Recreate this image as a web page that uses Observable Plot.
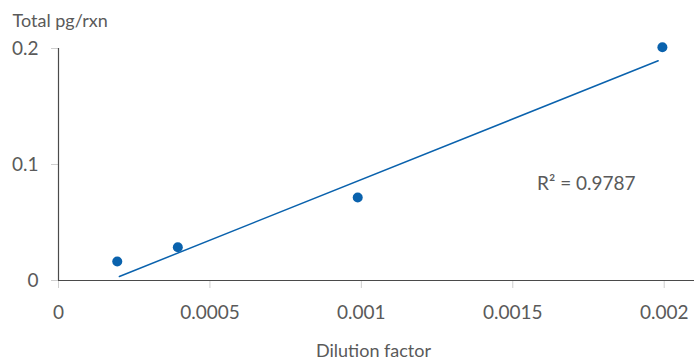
<!DOCTYPE html>
<html>
<head>
<meta charset="utf-8">
<script src="https://cdn.jsdelivr.net/npm/d3@7"></script>
<script src="https://cdn.jsdelivr.net/npm/@observablehq/plot@0.6"></script>
<style>
  html, body { margin: 0; padding: 0; background: #fff; }
</style>
</head>
<body>
<div id="chart"></div>
<script>
// Data
const dilution = [0.000194, 0.000394, 0.000988, 0.001994];
const totalPg  = [0.0164, 0.0287, 0.0716, 0.2011];
// Trend line end points (as drawn in the reference)
const trendX = [0.000201, 0.00198];
const trendY = [0.0035, 0.1894];
const xTicks = [0, 0.0005, 0.001, 0.0015, 0.002];
const yTicks = [0, 0.1, 0.2];
const xTickLabels = ["0", "0.0005", "0.001", "0.0015", "0.002"];
const yTickLabels = ["0", "0.1", "0.2"];
const rSquared = "R² = 0.9787";
const rPos = {x: 0.00158, y: 0.0776};
const xLabel = "Dilution factor";
const yLabel = "Total pg/rxn";

const points = dilution.map((x, i) => ({x, y: totalPg[i]}));
const trend = trendX.map((x, i) => ({x, y: trendY[i]}));

const blue = "#0a62ad";
const textColor = "#5a5a5a";
const font = "Lato, 'Open Sans', sans-serif";

const chart = Plot.plot({
  width: 694,
  height: 360,
  marginLeft: 58,
  marginRight: 0,
  marginTop: 48,
  marginBottom: 80,
  style: {fontFamily: font, fontSize: "19px", color: textColor, background: "#fff"},
  x: {domain: [0, 0.0021]},
  y: {domain: [0, 0.2]},
  marks: [
    Plot.axisX({ticks: xTicks, tickFormat: (d, i) => xTickLabels[xTicks.indexOf(d)], tickSize: 8, tickPadding: 17, stroke: "#cfcfcf", fill: textColor, fontSize: 19, label: null}),
    Plot.axisY({ticks: yTicks, tickFormat: (d) => yTickLabels[yTicks.indexOf(d)], tickSize: 7, tickPadding: 13, stroke: "#cfcfcf", fill: textColor, fontSize: 19, label: null}),
    Plot.ruleX([0], {stroke: "#4a4a4a", strokeWidth: 1.2}),
    Plot.ruleY([0], {stroke: "#4a4a4a", strokeWidth: 1.2}),
    Plot.line(trend, {x: "x", y: "y", stroke: blue, strokeWidth: 1.5}),
    Plot.dot(points, {x: "x", y: "y", r: 5, fill: blue, stroke: "none"}),
    Plot.text([rSquared], {x: rPos.x, y: rPos.y, text: d => d, textAnchor: "start", lineAnchor: "bottom", fill: textColor, fontSize: 19}),
    Plot.text([xLabel], {frameAnchor: "bottom", text: d => d, dx: -3, dy: 76, lineAnchor: "bottom", fill: textColor, fontSize: 18}),
    Plot.text([yLabel], {frameAnchor: "top-left", text: d => d, dx: -46, dy: -22, textAnchor: "start", lineAnchor: "bottom", fill: textColor, fontSize: 18})
  ]
});
document.getElementById("chart").appendChild(chart);
</script>
</body>
</html>
